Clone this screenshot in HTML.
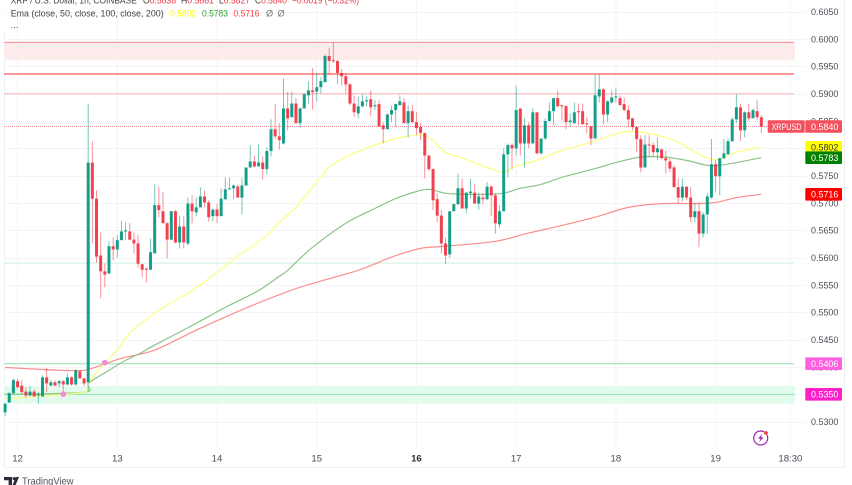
<!DOCTYPE html>
<html lang="en">
<head>
<meta charset="utf-8">
<title>XRP / U.S. Dollar chart</title>
<style>
html,body{margin:0;padding:0;background:#fff;width:852px;height:485px;overflow:hidden}
svg{display:block;filter:blur(.3px)}
text{font-family:"Liberation Sans",sans-serif}
</style>
</head>
<body>
<svg id="chart" width="852" height="485" viewBox="0 0 852 485" xmlns="http://www.w3.org/2000/svg">
  <rect x="0" y="0" width="852" height="485" fill="#ffffff"/>
  <g id="grid"></g>
  <line x1="4.5" y1="30" x2="4.5" y2="467.5" stroke="#eef0f3"/>
  <line x1="4" y1="467.5" x2="845" y2="467.5" stroke="#eef0f3"/>
  <line x1="844.5" y1="0" x2="844.5" y2="468" stroke="#eef0f3"/>
  <g id="levels"></g>
  <g id="emas"></g>
  <g id="candles"></g>
  <g id="markers"></g>
  <g id="yaxis"></g>
  <g id="xaxis"></g>
  <g id="tags"></g>

  <g font-size="9.2">
    <text x="10.7" y="3.6" fill="#444" textLength="126" lengthAdjust="spacingAndGlyphs">XRP / U.S. Dollar, 1h, COINBASE</text>
    <text x="143" y="3.6" fill="#f23645" textLength="33" lengthAdjust="spacingAndGlyphs"><tspan fill="#444">O</tspan>0.5838</text>
    <text x="181" y="3.6" fill="#f23645" textLength="33" lengthAdjust="spacingAndGlyphs"><tspan fill="#444">H</tspan>0.5861</text>
    <text x="219" y="3.6" fill="#f23645" textLength="31" lengthAdjust="spacingAndGlyphs"><tspan fill="#444">L</tspan>0.5827</text>
    <text x="255" y="3.6" fill="#f23645" textLength="32" lengthAdjust="spacingAndGlyphs"><tspan fill="#444">C</tspan>0.5840</text>
    <text x="292" y="3.6" fill="#f23645" textLength="67" lengthAdjust="spacingAndGlyphs">−0.0019 (−0.32%)</text>
    <text x="10.7" y="16.4" fill="#444" textLength="153" lengthAdjust="spacingAndGlyphs">Ema (close, 50, close, 100, close, 200)</text>
    <text x="170" y="16.4" fill="#ffff00" textLength="26" lengthAdjust="spacingAndGlyphs">0.5802</text>
    <text x="202" y="16.4" fill="#2e9e2e" textLength="26" lengthAdjust="spacingAndGlyphs">0.5783</text>
    <text x="233.5" y="16.4" fill="#ff3b3b" textLength="26" lengthAdjust="spacingAndGlyphs">0.5716</text>
    <text x="266" y="16.4" fill="#777">Ø</text>
    <text x="277.5" y="16.4" fill="#777">Ø</text>
    <text x="10.7" y="28" fill="#555">...</text>
  </g>

  <g>
    <circle cx="760.7" cy="438" r="7" fill="none" stroke="#9c27b0" stroke-width="1.2"/>
    <path d="M762.5 433.6 L758 438.6 L760.6 438.6 L759 442.4 L763.5 437.3 L760.9 437.3 Z" fill="#9c27b0"/>
    <circle cx="766" cy="433" r="2.1" fill="#f23645" stroke="#fff" stroke-width=".5"/>
  </g>

  <g>
    <path d="M4 477 H12 V485 H8.6 V480.2 H4 Z M19 477 L15.6 485 H12.6 L15.6 477 Z" fill="#2a2e39"/>
    <circle cx="14" cy="478.6" r="1.5" fill="#2a2e39"/>
    <text x="22" y="484.6" font-size="10.5" fill="#50535e" textLength="51.5" lengthAdjust="spacingAndGlyphs">TradingView</text>
  </g>
</svg>

<script>
const opens=[.5317,.5335,.5352,.5374,.5366,.5355,.5348,.5355,.5348,.5346,
.5381,.5366,.5372,.5370,.5374,.5368,.5381,.5368,.5392,.5379,
.5372,.5774,.5708,.5604,.5575,.5571,.5621,.5615,.5632,.5648,
.5648,.5633,.5626,.5588,.5580,.5578,.5608,.5696,.5685,.5663,
.5633,.5685,.5628,.5657,.5626,.5699,.5683,.5692,.5712,.5701,
.5676,.5688,.5676,.5707,.5725,.5727,.5730,.5710,.5732,.5765,
.5776,.5767,.5774,.5762,.5795,.5835,.5822,.5809,.5873,.5857,
.5882,.5846,.5873,.5897,.5906,.5904,.5912,.5921,.5969,.5961,
.5960,.5938,.5932,.5917,.5882,.5864,.5877,.5886,.5890,.5877,
.5881,.5842,.5835,.5862,.5870,.5879,.5884,.5846,.5868,.5848,
.5839,.5828,.5787,.5762,.5707,.5677,.5626,.5606,.5685,.5698,
.5727,.5690,.5718,.5719,.5699,.5710,.5707,.5730,.5714,.5661,
.5685,.5789,.5806,.5800,.5873,.5809,.5842,.5809,.5866,.5791,
.5818,.5850,.5868,.5892,.5879,.5877,.5848,.5846,.5868,.5868,
.5846,.5840,.5818,.5895,.5908,.5862,.5884,.5893,.5892,.5881,
.5870,.5855,.5839,.5817,.5765,.5807,.5806,.5793,.5798,.5782,
.5776,.5765,.5729,.5710,.5730,.5710,.5674,.5685,.5644,.5679,
.5710,.5771,.5749,.5782,.5789,.5813,.5853,.5875,.5833,.5866,.5855,.5868,.5857];
const highs=[.5333,.5354,.5379,.5379,.5376,.5363,.5365,.5359,.5354,.5385,
.5398,.5377,.5376,.5376,.5376,.5388,.5383,.5396,.5394,.5381,
.5882,.5813,.5723,.5646,.5589,.5630,.5637,.5641,.5668,.5665,
.5663,.5646,.5641,.5589,.5582,.5635,.5734,.5730,.5721,.5665,
.5685,.5687,.5676,.5676,.5710,.5714,.5710,.5729,.5723,.5705,
.5690,.5699,.5727,.5747,.5747,.5734,.5734,.5747,.5765,.5806,
.5787,.5807,.5785,.5802,.5853,.5882,.5846,.5928,.5903,.5904,
.5892,.5875,.5901,.5923,.5947,.5938,.5930,.5972,.5983,.5994,
.5960,.5945,.5938,.5919,.5897,.5895,.5899,.5895,.5906,.5888,
.5888,.5848,.5864,.5879,.5882,.5897,.5892,.5879,.5879,.5866,
.5846,.5828,.5787,.5763,.5718,.5687,.5637,.5685,.5699,.5754,
.5745,.5719,.5745,.5734,.5719,.5718,.5738,.5732,.5718,.5696,
.5800,.5809,.5809,.5915,.5873,.5855,.5848,.5873,.5866,.5818,
.5855,.5884,.5892,.5906,.5879,.5879,.5864,.5884,.5882,.5882,
.5857,.5842,.5934,.5936,.5910,.5888,.5906,.5910,.5897,.5893,
.5879,.5855,.5839,.5824,.5824,.5824,.5811,.5820,.5800,.5796,
.5782,.5769,.5745,.5745,.5730,.5729,.5701,.5701,.5683,.5718,
.5817,.5778,.5782,.5817,.5818,.5857,.5899,.5882,.5868,.5882,.5873,.5888,.5861];
const lows=[.5310,.5335,.5352,.5361,.5352,.5344,.5346,.5346,.5333,.5346,
.5354,.5365,.5365,.5363,.5348,.5366,.5366,.5366,.5379,.5365,
.5355,.5626,.5591,.5526,.5546,.5571,.5595,.5600,.5632,.5632,
.5632,.5608,.5582,.5564,.5555,.5577,.5608,.5674,.5663,.5599,
.5632,.5626,.5617,.5617,.5622,.5663,.5676,.5692,.5692,.5666,
.5666,.5663,.5676,.5705,.5725,.5707,.5710,.5679,.5732,.5765,
.5765,.5767,.5743,.5752,.5785,.5817,.5798,.5807,.5833,.5857,
.5846,.5837,.5873,.5882,.5871,.5886,.5901,.5921,.5934,.5956,
.5917,.5915,.5901,.5879,.5857,.5855,.5875,.5877,.5859,.5870,
.5839,.5809,.5835,.5848,.5839,.5879,.5846,.5820,.5846,.5824,
.5815,.5745,.5758,.5687,.5665,.5608,.5589,.5600,.5685,.5696,
.5690,.5681,.5708,.5699,.5688,.5698,.5705,.5676,.5644,.5654,
.5685,.5747,.5762,.5787,.5787,.5765,.5800,.5809,.5789,.5789,
.5815,.5850,.5842,.5875,.5851,.5835,.5839,.5846,.5842,.5844,
.5828,.5806,.5818,.5884,.5844,.5848,.5882,.5884,.5879,.5868,
.5839,.5833,.5793,.5756,.5765,.5784,.5785,.5778,.5780,.5754,
.5756,.5729,.5699,.5703,.5705,.5665,.5665,.5619,.5637,.5644,
.5708,.5721,.5714,.5780,.5789,.5813,.5846,.5813,.5820,.5850,.5855,.5851,.5828];
const closes=[.5333,.5352,.5376,.5363,.5354,.5348,.5355,.5346,.5350,.5381,
.5370,.5372,.5366,.5374,.5368,.5381,.5368,.5394,.5379,.5370,
.5774,.5708,.5602,.5575,.5569,.5621,.5615,.5632,.5648,.5650,
.5633,.5626,.5589,.5578,.5578,.5610,.5696,.5687,.5663,.5633,
.5685,.5628,.5657,.5628,.5699,.5685,.5692,.5712,.5701,.5674,
.5688,.5676,.5708,.5725,.5727,.5732,.5710,.5732,.5765,.5776,
.5767,.5774,.5762,.5795,.5835,.5822,.5815,.5873,.5855,.5882,
.5846,.5873,.5899,.5906,.5903,.5912,.5923,.5969,.5960,.5960,
.5938,.5932,.5917,.5882,.5866,.5877,.5886,.5888,.5875,.5879,
.5840,.5835,.5862,.5870,.5881,.5886,.5846,.5868,.5848,.5837,
.5828,.5787,.5762,.5705,.5677,.5626,.5604,.5685,.5698,.5727,
.5690,.5719,.5721,.5699,.5712,.5707,.5730,.5714,.5663,.5685,
.5789,.5806,.5800,.5870,.5809,.5842,.5809,.5866,.5791,.5818,
.5850,.5868,.5892,.5877,.5877,.5848,.5851,.5866,.5866,.5844,
.5844,.5818,.5897,.5908,.5862,.5886,.5893,.5895,.5879,.5870,
.5853,.5839,.5817,.5765,.5807,.5806,.5793,.5800,.5782,.5778,
.5763,.5729,.5710,.5730,.5710,.5674,.5685,.5644,.5679,.5712,
.5771,.5749,.5782,.5791,.5813,.5853,.5875,.5833,.5866,.5855,.5870,.5857,.5840];

const ema50Bars=[0,7,19,20,23,27,30,35,40,45,51,57,63,66,70,74,78,82,89,94,99,102,106,110,116,120,122,127,130,134,141,146,150,157,162,166,169,172,176,182];
const ema50Values=[.5341,.5346,.5354,.5370,.5399,.5431,.5462,.5493,.5518,.5540,.5573,.5608,.5641,.5665,.5692,.5729,.5765,.5784,.5806,.5818,.5824,.5820,.5793,.5782,.5765,.5756,.5765,.5776,.5784,.5796,.5811,.5824,.5831,.5824,.5811,.5793,.5782,.5780,.5793,.5802];
const ema100Bars=[0,19,20,25,29,33,35,45,53,61,66,68,74,82,89,94,99,102,106,111,116,120,124,129,134,142,147,153,159,164,169,172,176,182];
const ema100Values=[.5350,.5354,.5370,.5394,.5412,.5427,.5436,.5476,.5509,.5540,.5566,.5577,.5619,.5663,.5690,.5708,.5721,.5725,.5718,.5716,.5716,.5718,.5727,.5734,.5747,.5763,.5774,.5784,.5784,.5778,.5769,.5769,.5774,.5783];
const ema200Bars=[0,13,19,23,28,36,47,59,71,85,93,100,106,118,126,134,142,150,158,166,171,176,182];
const ema200Values=[.5399,.5394,.5394,.5403,.5416,.5431,.5471,.5511,.5546,.5577,.5601,.5617,.5621,.5630,.5645,.5659,.5674,.5692,.5699,.5699,.5701,.5710,.5716];

const priceTicks=[.6050,.6000,.5950,.5900,.5850,.5800,.5750,.5700,.5650,.5600,.5550,.5500,.5450,.5400,.5350,.5300];
const timeLabels=["12","13","14","15","16","17","18","19","18:30"];
const timeBars=[3,27,51,75,99,123,147,171,189];
const boldTimeLabels=["16"];

const resistanceZone=[.5994,.5961];
const resistanceLines=[.5994,.5936,.5900];
const supportZone=[.5365,.5333];
const supportLines=[.5406,.5350];
const supportFaintLine=[.5590];
const lastPrice=.5840;
const ema50Last=.5802;
const ema100Last=.5783;
const ema200Last=.5716;
const alertBars=[14,24];
const alertPrices=[.5350,.5408];

const SVGNS="http://www.w3.org/2000/svg";
const LEFT=4, PANE_RIGHT=794, GRID_RIGHT=805, AXIS_BOTTOM=447;
function xScale(bar){return 5.1+bar*4.155;}
function yScale(price){return 93.7+(0.59-price)*5466;}
function mk(parent,tag,attrs){
  const node=document.createElementNS(SVGNS,tag);
  for(const k in attrs){node.setAttribute(k,attrs[k]);}
  parent.appendChild(node);
  return node;
}
const gGrid=document.getElementById('grid');
const gLevels=document.getElementById('levels');
const gEmas=document.getElementById('emas');
const gCandles=document.getElementById('candles');
const gMarkers=document.getElementById('markers');
const gY=document.getElementById('yaxis');
const gX=document.getElementById('xaxis');
const gTags=document.getElementById('tags');

priceTicks.forEach(function(p){
  const y=Math.round(yScale(p))+.5;
  const line=mk(gGrid,'line',{x1:LEFT,x2:GRID_RIGHT,y1:y,y2:y,stroke:'#f3f4f6'});
  
  
  const t=mk(gY,'text',{x:811,y:yScale(p)+3.3,'font-size':9.4,fill:'#4a4d57',textLength:27.4,lengthAdjust:'spacingAndGlyphs'});
  t.textContent=p.toFixed(4);
  
  
});
timeLabels.forEach(function(label,i){
  const x=xScale(timeBars[i]);
  const line=mk(gGrid,'line',{x1:x,x2:x,y1:0,y2:AXIS_BOTTOM,stroke:'#f3f4f6'});
  
  
  const bold=boldTimeLabels.indexOf(label)>=0;
  const t=mk(gX,'text',{x:x,y:461.5,'font-size':9.6,'text-anchor':'middle',fill:bold?'#2a2e39':'#4a4d57','font-weight':bold?'bold':'normal'});
  t.textContent=label;
  
  
});

const rz=mk(gLevels,'rect',{x:LEFT,width:791,y:yScale(resistanceZone[0]),height:yScale(resistanceZone[1])-yScale(resistanceZone[0]),fill:'#fdecec'});


const sz=mk(gLevels,'rect',{x:LEFT,width:791,y:yScale(supportZone[0]),height:yScale(supportZone[1])-yScale(supportZone[0]),fill:'#e3fbec'});


const resistanceWidths=[1,1.8,1];
const resistanceColors=['#fb8a8a','#fb8a8a','#fbb4b4'];
resistanceLines.forEach(function(p,i){
  const y=yScale(p);
  const line=mk(gLevels,'line',{x1:LEFT,x2:PANE_RIGHT,y1:y,y2:y,stroke:resistanceColors[i],'stroke-width':resistanceWidths[i]});
  
  
});
supportLines.forEach(function(p){
  const y=yScale(p);
  const line=mk(gLevels,'line',{x1:LEFT,x2:PANE_RIGHT,y1:y,y2:y,stroke:'#8fe0b0','stroke-width':1});
  
  
});
supportFaintLine.forEach(function(p){
  const y=yScale(p);
  const line=mk(gLevels,'line',{x1:LEFT,x2:PANE_RIGHT,y1:y,y2:y,stroke:'#e3f8ea','stroke-width':2});
  
  
});
const lp=mk(gLevels,'line',{x1:LEFT,x2:PANE_RIGHT,y1:yScale(lastPrice),y2:yScale(lastPrice),stroke:'#f58b95','stroke-width':1,'stroke-dasharray':'1 1'});



function emaPath(bars,values){
  const pts=bars.map(function(b,i){return [xScale(b),yScale(values[i])];});
  let d='M'+pts[0][0].toFixed(1)+' '+pts[0][1].toFixed(1);
  for(let i=0;i<pts.length-1;i++){
    const p0=pts[Math.max(0,i-1)],p1=pts[i],p2=pts[i+1],p3=pts[Math.min(pts.length-1,i+2)];
    const c1x=p1[0]+(p2[0]-p0[0])/6,c1y=p1[1]+(p2[1]-p0[1])/6;
    const c2x=p2[0]-(p3[0]-p1[0])/6,c2y=p2[1]-(p3[1]-p1[1])/6;
    d+=' C'+c1x.toFixed(1)+' '+c1y.toFixed(1)+' '+c2x.toFixed(1)+' '+c2y.toFixed(1)+' '+p2[0].toFixed(1)+' '+p2[1].toFixed(1);
  }
  return d;
}
const e200=mk(gEmas,'path',{d:emaPath(ema200Bars,ema200Values),fill:'none',stroke:'#fb8f8f','stroke-width':1.2});


const e100=mk(gEmas,'path',{d:emaPath(ema100Bars,ema100Values),fill:'none',stroke:'#8cc48a','stroke-width':1.2});


const e50=mk(gEmas,'path',{d:emaPath(ema50Bars,ema50Values),fill:'none',stroke:'#fdfd80','stroke-width':1.2});



opens.forEach(function(o,i){
  const c=closes[i];
  const up=c>=o;
  const color=up?'#089981':'#f23645';
  const x=xScale(i);
  const group=mk(gCandles,'g',{});
  
  
  const wick=mk(group,'line',{x1:x,x2:x,y1:yScale(highs[i]),y2:yScale(lows[i]),stroke:color,'stroke-width':1,'stroke-opacity':.55});
  
  
  const top=yScale(Math.max(o,c));
  const h=Math.max(1,yScale(Math.min(o,c))-top);
  const body=mk(group,'rect',{x:x-1.5,y:top,width:3,height:h,fill:color,'fill-opacity':.93});
  
  
});

alertBars.forEach(function(b,i){
  const dot=mk(gMarkers,'circle',{cx:xScale(b),cy:yScale(alertPrices[i]),r:2.8,fill:'#f48ad9'});
  
  
});

function priceTag(value,color,textColor,name){
  const y=yScale(value);
  const box=mk(gTags,'rect',{x:805.3,y:y-6.3,width:36.7,height:12.6,rx:1,fill:color});
  
  
  const t=mk(gTags,'text',{x:811,y:y+3.3,'font-size':9.4,fill:textColor,textLength:27.4,lengthAdjust:'spacingAndGlyphs'});
  t.textContent=value.toFixed(4);
  
  
}
const symBox=mk(gTags,'rect',{x:767.7,y:yScale(lastPrice)-6.3,width:37,height:12.6,rx:1,fill:'#f4505e'});


const symText=mk(gTags,'text',{x:771.5,y:yScale(lastPrice)+3.3,'font-size':9.4,fill:'#ffffff',textLength:30,lengthAdjust:'spacingAndGlyphs'});
symText.textContent='XRPUSD';


priceTag(lastPrice,'#f4505e','#ffffff','last-price-tag');
priceTag(ema50Last,'#ffff00','#333333','ema-50-tag');
priceTag(ema100Last,'#008000','#ffffff','ema-100-tag');
priceTag(ema200Last,'#ff0000','#ffffff','ema-200-tag');
priceTag(supportLines[0],'#ff5fe0','#ffffff','support-upper-tag');
priceTag(supportLines[1],'#ff1fc8','#ffffff','support-lower-tag');
</script>
</body>
</html>
